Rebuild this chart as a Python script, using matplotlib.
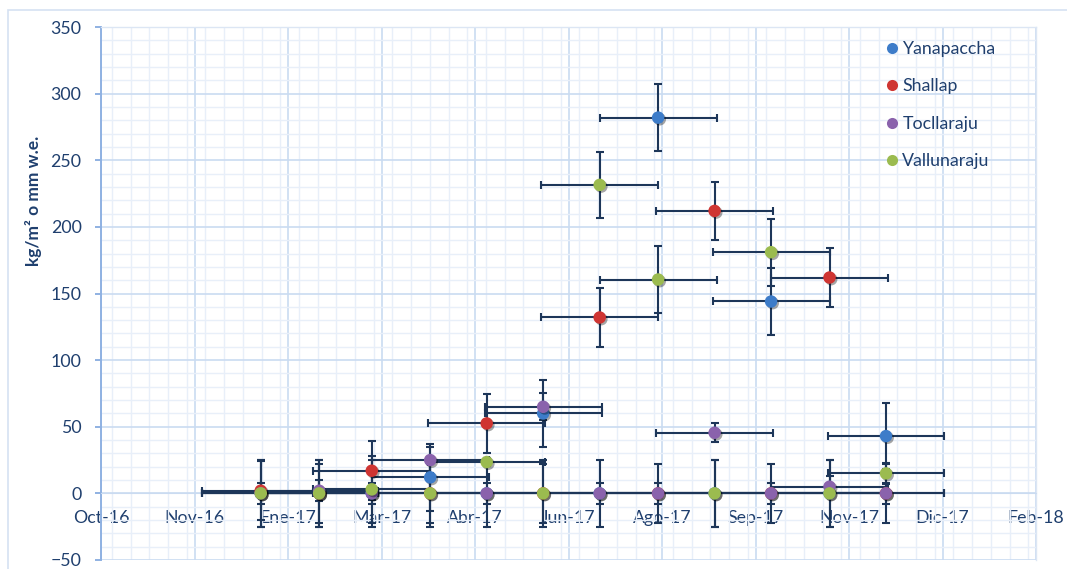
import datetime as dt
import matplotlib
matplotlib.use("Agg")
import matplotlib.pyplot as plt
import matplotlib.dates as mdates
import matplotlib.patheffects as pe
from matplotlib.lines import Line2D
from matplotlib.patches import Rectangle
from matplotlib.ticker import MultipleLocator

plt.rcParams['font.family'] = ['Lato', 'DejaVu Sans']

# fechas de muestreo
fechas = ['2017-01-08', '2017-02-07', '2017-03-06', '2017-04-05', '2017-05-04', '2017-06-02',
          '2017-07-01', '2017-07-31', '2017-08-29', '2017-09-27', '2017-10-27', '2017-11-25']

yanapaccha = [0, 0, 0, 12, 0, 60, 0, 282, 0, 144, 0, 43]
yanapaccha_err = [25, 25, 25, 25, 25, 25, 25, 25, 25, 25, 25, 25]

shallap = [2, 0, 17, 0, 52.5, 0, 132, 0, 212, 0, 162, 0]
shallap_err = [22, 22, 22, 22, 22, 22, 22, 22, 22, 22, 22, 22]

tocllaraju = [0, 2, 0, 25, 0, 65, 0, 0, 45.5, 0, 5, 0]
tocllaraju_err = [8, 8, 8, 10, 8, 10, 8, 8, 7, 8, 8, 8]

vallunaraju = [0, 0, 3, 0, 23.5, 0, 231.5, 160.5, 0, 181, 0, 15]
vallunaraju_err = [25, 25, 25, 25, 3, 25, 25, 25, 25, 25, 25, 8]

err_dias = 30  # +/- dias en el eje x

series = [
    ('Yanapaccha', yanapaccha, yanapaccha_err, '#3D7CC9'),
    ('Shallap', shallap, shallap_err, '#CF3532'),
    ('Tocllaraju', tocllaraju, tocllaraju_err, '#8A62AC'),
    ('Vallunaraju', vallunaraju, vallunaraju_err, '#9BBB4F'),
]

eje_inicio = dt.date(2016, 10, 18)
paso = 48
etiquetas_x = ['Oct-16', 'Nov-16', 'Ene-17', 'Mar-17', 'Abr-17', 'Jun-17',
               'Ago-17', 'Sep-17', 'Nov-17', 'Dic-17', 'Feb-18']

azul_texto = '#1F3F6E'
color_err = '#1D3659'

W, H = 1067, 569
fig = plt.figure(figsize=(W / 100, H / 100), dpi=100)
ax = fig.add_axes([101 / W, 9 / H, (1036 - 101) / W, (560 - 27) / H])

x = [mdates.date2num(dt.date.fromisoformat(f)) for f in fechas]

# barras de error primero, marcadores encima
for nombre, vals, errs, color in series:
    ax.errorbar(x, vals, yerr=errs, xerr=err_dias, fmt='none', ecolor=color_err,
                elinewidth=1.5, capsize=3.2, capthick=1.5, zorder=3)

for nombre, vals, errs, color in series:
    ax.plot(x, vals, 'o', color=color, markersize=9, markeredgewidth=0, zorder=4,
            path_effects=[pe.SimplePatchShadow(offset=(1.2, -1.2), shadow_rgbFace='k', alpha=0.35),
                          pe.Normal()])

x0 = mdates.date2num(eje_inicio)
ticks = [x0 + paso * i for i in range(len(etiquetas_x))]
ax.set_xlim(ticks[0], ticks[-1])
ax.set_xticks(ticks)
ax.set_xticklabels(etiquetas_x)
ax.xaxis.set_minor_locator(MultipleLocator(paso / 5))

ax.set_ylim(-50, 350)
ax.yaxis.set_major_locator(MultipleLocator(50))
ax.yaxis.set_minor_locator(MultipleLocator(10))

ax.grid(which='major', color='#CADBF1', linewidth=1.2, zorder=0)
ax.grid(which='minor', color='#E8EFF9', linewidth=1.0, zorder=0)
ax.set_axisbelow(True)

for lado in ['top', 'right']:
    ax.spines[lado].set_color('#DCE6F4')
    ax.spines[lado].set_linewidth(1.0)
ax.spines['bottom'].set_position(('data', 0))
ax.spines['bottom'].set_color('#CADBF1')
ax.spines['left'].set_color('#8FB1E2')
ax.spines['left'].set_linewidth(1.4)

ax.tick_params(axis='x', which='both', length=0, pad=12, labelsize=12.8, labelcolor=azul_texto)
ax.tick_params(axis='y', which='major', length=4, width=1.4, color='#8FB1E2', pad=10,
               labelsize=12.8, labelcolor=azul_texto)
ax.tick_params(axis='y', which='minor', length=0)

fig.text(33 / W, 1 - 201 / H, 'kg/m² o mm w.e.', rotation=90, ha='center', va='center',
         fontsize=12.5, fontweight='bold', color=azul_texto)

# leyenda
handles = [Line2D([], [], marker='o', linestyle='none', color=c, markersize=8,
                  markeredgewidth=0) for _, _, _, c in series]
leg = fig.legend(handles, [s[0] for s in series], loc='upper left',
                 bbox_to_anchor=(874 / W, 1 - 34 / H), frameon=False, fontsize=12.8,
                 handletextpad=0.0, labelspacing=1.2, handlelength=1.2, borderaxespad=0)
for t in leg.get_texts():
    t.set_color(azul_texto)

# borde exterior del grafico
fig.patches.append(Rectangle((7.5 / W, -0.1), 1.2, 1 - 10 / H + 0.1, transform=fig.transFigure,
                             fill=False, edgecolor='#D5E1F2', linewidth=1.2))

fig.savefig('out.png', dpi=100)
